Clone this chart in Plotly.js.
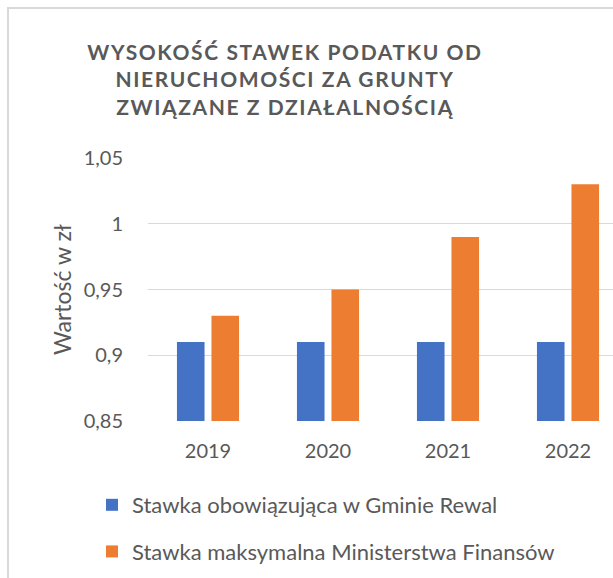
<!DOCTYPE html>
<html>
<head>
<meta charset="utf-8">
<script src="https://cdn.plot.ly/plotly-3.0.1.min.js"></script>
<style>
  html, body { margin: 0; padding: 0; background: #fff; overflow: hidden; }
  #wrap { position: relative; width: 613px; height: 578px; overflow: hidden; }
  #chart { position: absolute; left: 0; top: 0; width: 613px; height: 578px; }
  #frame { position: absolute; left: 7px; top: 7px; width: 800px; height: 800px;
           border-left: 2px solid #d9d9d9; border-top: 2px solid #d9d9d9; pointer-events: none; }
  .gtitle { letter-spacing: 1.6px; }
</style>
</head>
<body>
<div id="wrap">
  <div id="chart"></div>
  <div id="frame"></div>
</div>
<script>
const categories = ["2019", "2020", "2021", "2022"];
const seriesNames = ["Stawka obowiązująca w Gminie Rewal", "Stawka maksymalna Ministerstwa Finansów"];
const gminaRewal = [0.91, 0.91, 0.91, 0.91];
const ministerstwo = [0.93, 0.95, 0.99, 1.03];
const yTickVals = [0.85, 0.9, 0.95, 1, 1.05];
const yTickText = ["0,85", "0,9", "0,95", "1", "1,05"];
const chartTitle = "WYSOKOŚĆ STAWEK PODATKU OD<br>NIERUCHOMOŚCI ZA GRUNTY<br>ZWIĄZANE Z DZIAŁALNOŚCIĄ";
const yTitle = "Wartość w zł";

const FONT = "Lato, 'Open Sans', sans-serif";
const GREY = "#595959";

const traces = [
  { type: "bar", x: categories, y: gminaRewal, name: seriesNames[0],
    marker: { color: "#4472C4" }, legendgroup: "a", hoverinfo: "y" },
  { type: "bar", x: categories, y: ministerstwo, name: seriesNames[1],
    marker: { color: "#ED7D31" }, legendgroup: "b", hoverinfo: "y" }
];

const layout = {
  width: 613, height: 578,
  margin: { l: 148, r: 0, t: 158, b: 157, pad: 0, autoexpand: false },
  paper_bgcolor: "rgba(0,0,0,0)", plot_bgcolor: "rgba(0,0,0,0)",
  font: { family: FONT, color: GREY, size: 20 },
  separators: ", ",
  title: {
    text: chartTitle,
    font: { family: FONT, size: 21, color: GREY, weight: "bold" },
    x: 285 / 613, xanchor: "center", xref: "container",
    y: 1 - 60 / 578, yanchor: "top", yref: "container"
  },
  barmode: "group", bargap: 0.425, bargroupgap: 0.2,
  xaxis: {
    type: "category", range: [-0.5, 3.375], showgrid: false, zeroline: false,
    showline: false, ticks: "", tickangle: 0, automargin: false, ticklabelstandoff: 16,
    tickfont: { size: 20, color: GREY, family: FONT },
    fixedrange: true
  },
  yaxis: {
    range: [0.85, 1.05], tickvals: yTickVals, ticktext: yTickText, automargin: false,
    showgrid: true, gridcolor: "#d9d9d9", gridwidth: 1.3, zeroline: false, showline: false,
    ticks: "", ticklabelstandoff: 24, tickfont: { size: 20, color: GREY, family: FONT },
    title: { text: yTitle, font: { size: 23, color: GREY, family: FONT }, standoff: 5 },
    fixedrange: true
  },
  showlegend: true,
  legend: {
    orientation: "v", traceorder: "grouped", tracegroupgap: 15,
    x: -0.1204, xanchor: "left",
    y: -0.2396, yanchor: "top",
    font: { size: 22, color: GREY, family: FONT },
    bgcolor: "rgba(0,0,0,0)", itemclick: false, itemdoubleclick: false
  }
};

Plotly.newPlot("chart", traces, layout, { displayModeBar: false, staticPlot: true });
</script>
</body>
</html>
